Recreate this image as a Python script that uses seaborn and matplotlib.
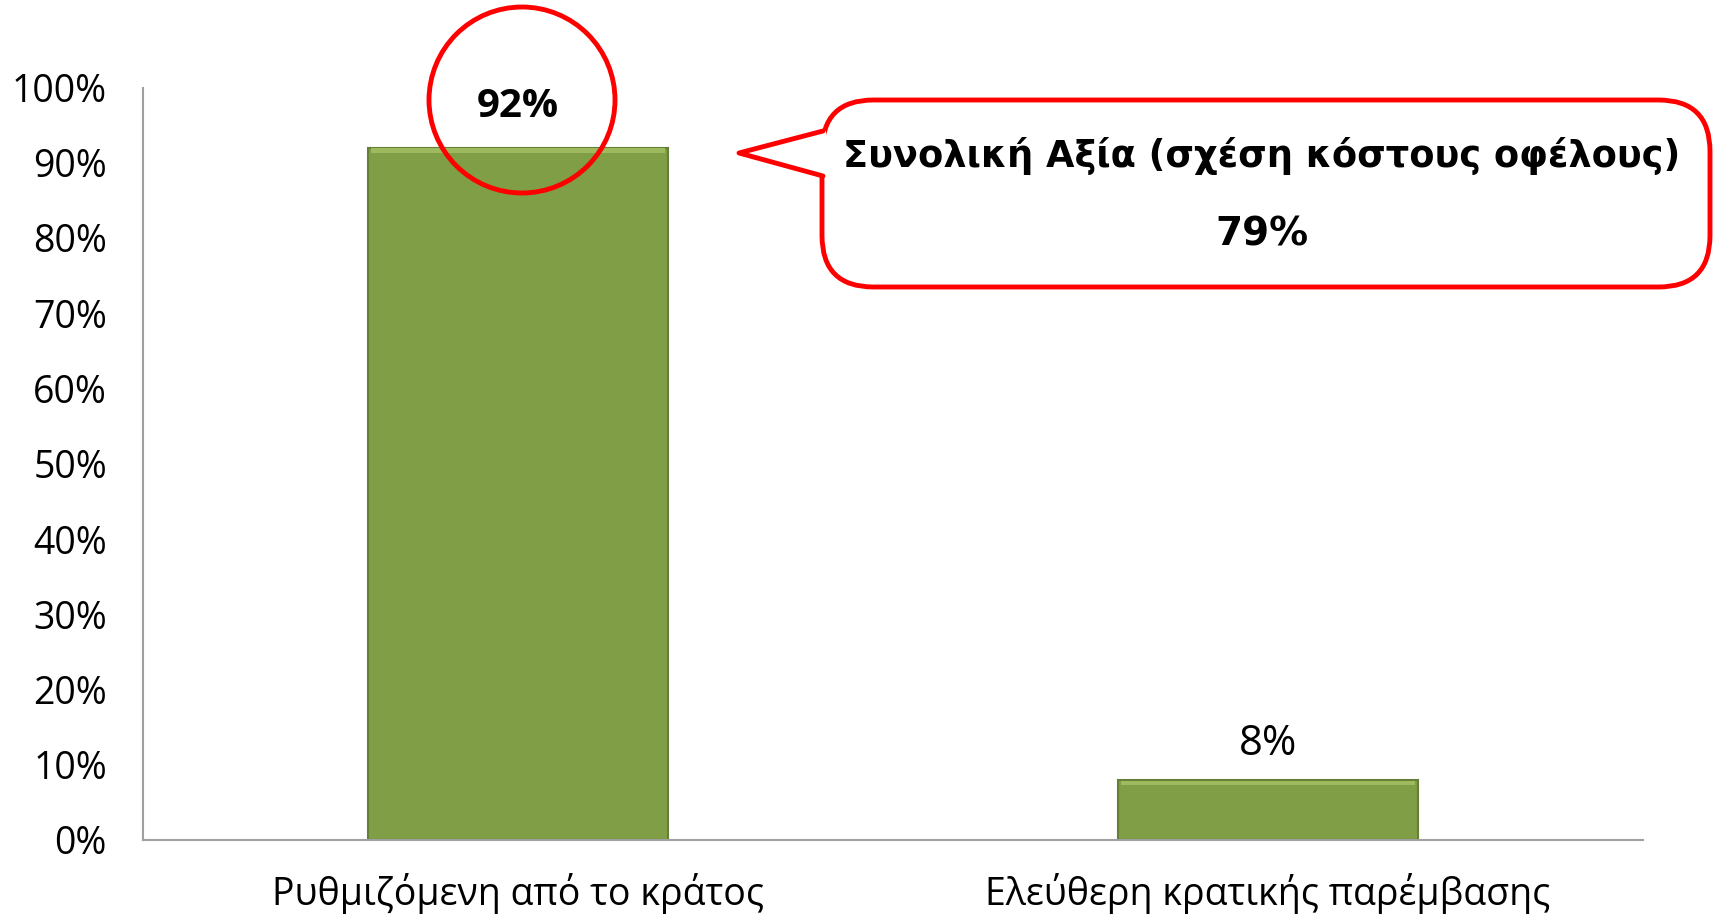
import numpy as np
import pandas as pd
import matplotlib
matplotlib.use('Agg')
import matplotlib.pyplot as plt
import seaborn as sb
from matplotlib.patches import FancyBboxPatch, Polygon, Ellipse
from matplotlib.lines import Line2D

categories = ['Ρυθμιζόμενη από το κράτος', 'Ελεύθερη κρατικής παρέμβασης']
values = [92, 8]
bar_labels = ['92%', '8%']
callout_title = 'Συνολική Αξία (σχέση κόστους οφέλους)'
callout_value = '79%'
yticks = list(range(0, 101, 10))

sb.set_style('white')
plt.rcParams['font.family'] = ['Open Sans', 'DejaVu Sans']
plt.rcParams['text.color'] = 'black'
plt.rcParams['xtick.color'] = 'black'
plt.rcParams['ytick.color'] = 'black'

W, H = 1715, 917
fig = plt.figure(figsize=(W / 100, H / 100), dpi=100)
ax = fig.add_axes([143 / W, 1 - 840 / H, 1500 / W, (840 - 87.5) / H])

df = pd.DataFrame({'cat': categories, 'val': values})
sb.barplot(data=df, x='cat', y='val', ax=ax, color='#7f9e45', width=0.4,
           edgecolor='#667f36', linewidth=1.5, saturation=1)

ax.set_xlim(-0.5, 1.5)
ax.set_ylim(0, 100)
ax.set_yticks(yticks)
ax.set_yticklabels([f'{v}%' for v in yticks])
ax.set_xlabel('')
ax.set_ylabel('')

# category boundaries as major ticks, labels on minor ticks
ax.set_xticks([-0.5, 0.5, 1.5])
ax.set_xticklabels([])
ax.set_xticks([0, 1], minor=True)
ax.set_xticklabels(categories, minor=True)
ax.tick_params(axis='x', which='major', length=12, color='#a0a0a0', width=1.5, direction='out')
ax.tick_params(axis='x', which='minor', length=0, labelsize=27, pad=24)
ax.tick_params(axis='y', length=12, color='#a0a0a0', width=1.5, direction='out', labelsize=27, pad=14)

for s in ['top', 'right']:
    ax.spines[s].set_visible(False)
for s in ['left', 'bottom']:
    ax.spines[s].set_color('#a0a0a0')
    ax.spines[s].set_linewidth(1.5)

# light bevel highlight at bar tops
for p in ax.patches:
    x0, w, h = p.get_x(), p.get_width(), p.get_height()
    ax.add_patch(plt.Rectangle((x0 + 0.004, h - 0.7), w - 0.008, 0.6, color='#9dbb5e', zorder=3, lw=0))

ax.text(0, 97.5, bar_labels[0], ha='center', va='center', fontsize=29, fontweight='bold')
ax.text(1, 12.7, bar_labels[1], ha='center', va='center', fontsize=30)

def fx(px):
    return px / W

def fy(py):
    return 1 - py / H

# red circle around the 92% label
fig.patches.append(Ellipse((fx(522), fy(100)), 2 * 93 / W, 2 * 93 / H, transform=fig.transFigure,
                           fill=False, edgecolor='#ff0000', linewidth=3.5, zorder=10))

# callout box
box = FancyBboxPatch((fx(822), fy(287)), fx(1710) - fx(822), fy(100) - fy(287),
                     boxstyle='round,pad=0,rounding_size=0.03', transform=fig.transFigure,
                     facecolor='white', edgecolor='#ff0000', linewidth=3.5, zorder=10,
                     mutation_aspect=W / H)
fig.patches.append(box)
tip = [(fx(826), fy(131)), (fx(739), fy(153)), (fx(826), fy(176))]
fig.patches.append(Polygon(tip, closed=True, transform=fig.transFigure, facecolor='white',
                           edgecolor='none', zorder=11))
fig.lines.append(Line2D([fx(823), fx(739), fx(823)], [fy(131), fy(153), fy(176)],
                        transform=fig.transFigure, color='#ff0000', linewidth=3.5, zorder=12))

fig.text(fx(1262), fy(156), callout_title, ha='center', va='center', fontsize=26.5,
         fontweight='bold', family=['DejaVu Sans'], zorder=13)
fig.text(fx(1262), fy(235), callout_value, ha='center', va='center', fontsize=28,
         fontweight='bold', family=['DejaVu Sans'], zorder=13)

fig.savefig('out.png', dpi=100)
